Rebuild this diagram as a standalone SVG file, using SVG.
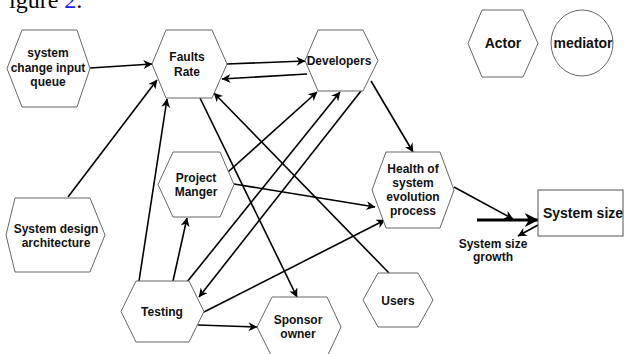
<svg xmlns="http://www.w3.org/2000/svg" width="624" height="354" viewBox="0 0 624 354">
  <defs>
    <style>
      .hex { fill: #ffffff; stroke: #666666; stroke-width: 1; }
      .box { fill: #ffffff; stroke: #555555; stroke-width: 1; }
      .lbl { font-family: "Liberation Sans", Arial, sans-serif; font-weight: bold; font-size: 12px; fill: #111111; text-anchor: middle; }
      .lbl14 { font-size: 14px; }
      .edge { fill: none; stroke: #000000; stroke-width: 1.6; marker-end: url(#arr); }
      .plain { fill: none; stroke: #000000; stroke-width: 1.6; }
      .caption { font-family: "Liberation Serif", "Times New Roman", serif; font-size: 24px; fill: #000000; }
    </style>
    <marker id="arr" viewBox="0 0 10 10" refX="9.5" refY="5" markerWidth="11" markerHeight="9" markerUnits="userSpaceOnUse" orient="auto">
      <path d="M0,0 L10,5 L0,10 L3,5 z" fill="#000000"/>
    </marker>
    <marker id="big" viewBox="0 0 10 10" refX="9.5" refY="5" markerWidth="15" markerHeight="14" markerUnits="userSpaceOnUse" orient="auto">
      <path d="M0,0 L10,5 L0,10 L3,5 z" fill="#000000"/>
    </marker>
  </defs>

  <rect width="624" height="354" fill="#ffffff"/>

  <!-- partial caption line at the top edge -->
  <text class="caption" x="9" y="8">igure <tspan fill="#1a1aff">2</tspan>.</text>

  <!-- connectors -->
  <g id="connectors">
    <line class="edge" x1="90" y1="68" x2="152" y2="64"/>
    <line class="edge" x1="68" y1="197" x2="157" y2="80"/>
    <line class="edge" x1="139" y1="281" x2="167" y2="99"/>
    <line class="edge" x1="173" y1="281" x2="187" y2="218"/>
    <line class="edge" x1="227" y1="64" x2="305" y2="61"/>
    <line class="edge" x1="307" y1="74" x2="222" y2="79"/>
    <line class="edge" x1="389" y1="273" x2="214" y2="93"/>
    <line class="edge" x1="200" y1="98" x2="297" y2="297"/>
    <line class="edge" x1="228" y1="172" x2="317" y2="92"/>
    <line class="edge" x1="187" y1="282" x2="340" y2="92"/>
    <line class="edge" x1="361" y1="91" x2="199" y2="297"/>
    <line class="edge" x1="371" y1="81" x2="413" y2="152"/>
    <line class="edge" x1="234" y1="184" x2="375" y2="207"/>
    <line class="edge" x1="204" y1="312" x2="385" y2="220"/>
    <line class="edge" x1="198" y1="325" x2="257" y2="327"/>
    <line class="edge" x1="454" y1="187" x2="513" y2="219"/>
    <line class="edge" x1="538" y1="225" x2="518" y2="236"/>
    <line fill="none" stroke="#000000" stroke-width="3.2" marker-end="url(#big)" x1="477" y1="220" x2="538" y2="220"/>
  </g>

  <!-- legend -->
  <g id="actor">
    <polygon class="hex" points="468,43.5 482,10 523,10 538,43.5 523,77 482,77"/>
    <text class="lbl lbl14" x="503" y="48">Actor</text>
  </g>
  <g id="mediator">
    <ellipse class="hex" cx="582" cy="43" rx="31" ry="33"/>
    <text class="lbl lbl14" x="583" y="48">mediator</text>
  </g>

  <!-- nodes -->
  <g id="input-queue">
    <polygon class="hex" points="7,68.5 22,30 77,30 90,68.5 77,107 22,107"/>
    <text class="lbl" x="48" y="57">system</text>
    <text class="lbl" x="48" y="72">change input</text>
    <text class="lbl" x="48" y="86">queue</text>
  </g>
  <g id="faults-rate">
    <polygon class="hex" points="152,64 166,30 212,30 227,64 212,98 166,98"/>
    <text class="lbl" x="187" y="61">Faults</text>
    <text class="lbl" x="187" y="76">Rate</text>
  </g>
  <g id="developers">
    <polygon class="hex" points="305,60.5 318,30 363,30 378,60.5 363,91 318,91"/>
    <text class="lbl" x="339" y="65">Developers</text>
  </g>
  <g id="design-architecture">
    <polygon class="hex" points="6,235 15,198 90,198 105,235 90,272 15,272"/>
    <text class="lbl" x="56" y="233">System design</text>
    <text class="lbl" x="56" y="247">architecture</text>
  </g>
  <g id="project-manager">
    <polygon class="hex" points="158,184.5 173,152 220,152 234,184.5 220,217 173,217"/>
    <text class="lbl" x="196" y="182">Project</text>
    <text class="lbl" x="196" y="196">Manger</text>
  </g>
  <g id="health">
    <polygon class="hex" points="372,190 386,152 440,152 454,190 440,228 386,228"/>
    <text class="lbl" x="413" y="173">Health of</text>
    <text class="lbl" x="413" y="187">system</text>
    <text class="lbl" x="413" y="201">evolution</text>
    <text class="lbl" x="413" y="215">process</text>
  </g>
  <g id="system-size">
    <rect class="box" x="538" y="190" width="85" height="46"/>
    <text class="lbl lbl14" x="583" y="218">System size</text>
  </g>
  <g id="size-growth">
    <text class="lbl" x="493" y="248">System size</text>
    <text class="lbl" x="493" y="261">growth</text>
  </g>
  <g id="testing">
    <polygon class="hex" points="121,311.5 136,281 189,281 204,311.5 189,342 136,342"/>
    <text class="lbl" x="162" y="316">Testing</text>
  </g>
  <g id="sponsor-owner">
    <polygon class="hex" points="257,327 272,297 327,297 341,327 327,357 272,357"/>
    <text class="lbl" x="298" y="324">Sponsor</text>
    <text class="lbl" x="298" y="338">owner</text>
  </g>
  <g id="users">
    <polygon class="hex" points="363,300 378,273 418,273 433,300 418,327 378,327"/>
    <text class="lbl" x="398" y="305">Users</text>
  </g>
</svg>
